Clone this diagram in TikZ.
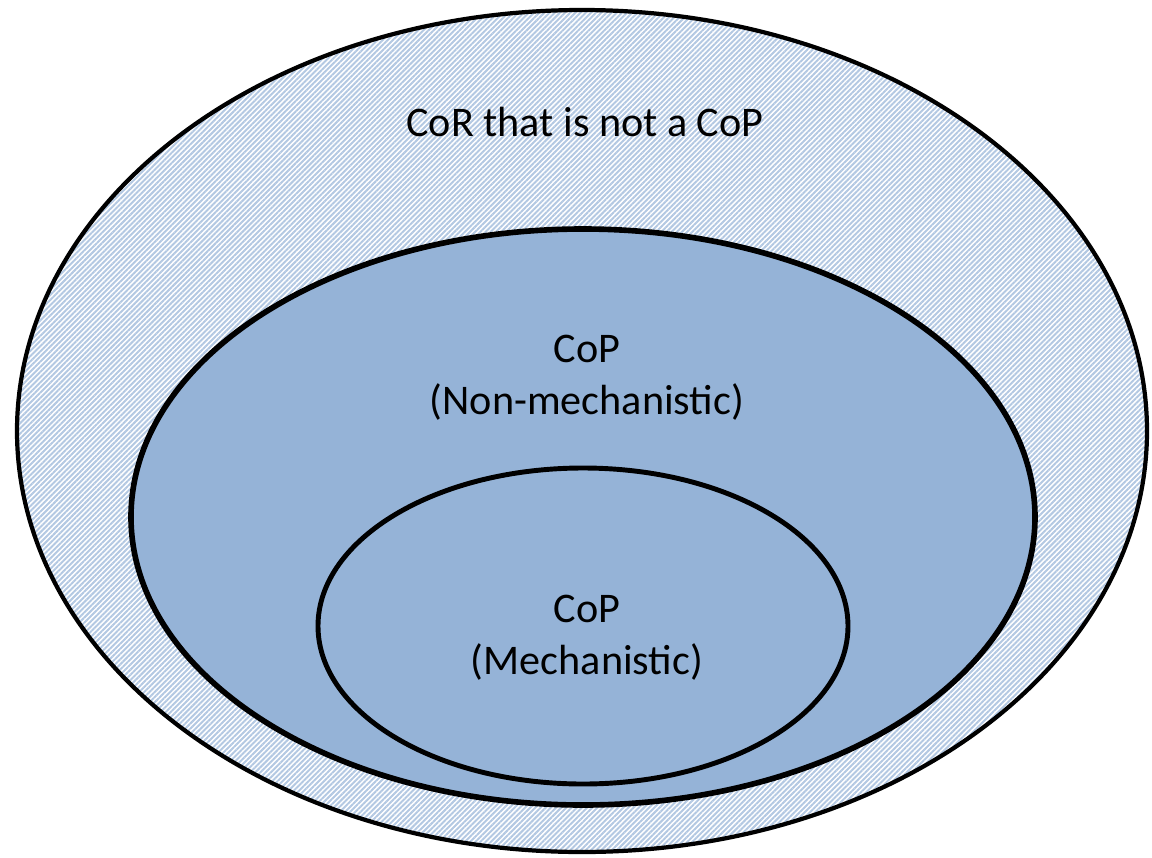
\documentclass[tikz,border=0pt]{standalone}
\usepackage{fontspec}
\setmainfont{Carlito}
\usetikzlibrary{patterns.meta}
\definecolor{setblue}{HTML}{95B3D7}
\definecolor{hatchblue}{HTML}{B3C8E2}

\begin{document}
\begin{tikzpicture}[x=0.025cm,y=-0.025cm]
        \tikzset{outerset/.style={draw, line width=3pt, pattern={Lines[angle=45,distance=2.6pt,line width=1.4pt]}, pattern color=hatchblue},
        innerset/.style={draw, line width=4pt, fill=setblue},
        settext/.style={font=\fontsize{30}{37}\selectfont, align=center}
        }
        \useasboundingbox (0,0) rectangle (1152,857);
%% sets
        \draw[outerset] (582,431) ellipse [x radius=565, y radius=421];
        \draw[innerset] (583,517) ellipse [x radius=452, y radius=288];
        \draw[innerset, line width=3.5pt] (583,626) ellipse [x radius=265, y radius=158];
%% labels
        \node [settext] (cor) at (585,122) {CoR that is not a CoP};
        \node [settext] (noncop) at (587,378) {CoP\\(Non-mechanistic)};
        \node [settext] (mechcop) at (587,638) {CoP\\(Mechanistic)};
\end{tikzpicture}
\end{document}
